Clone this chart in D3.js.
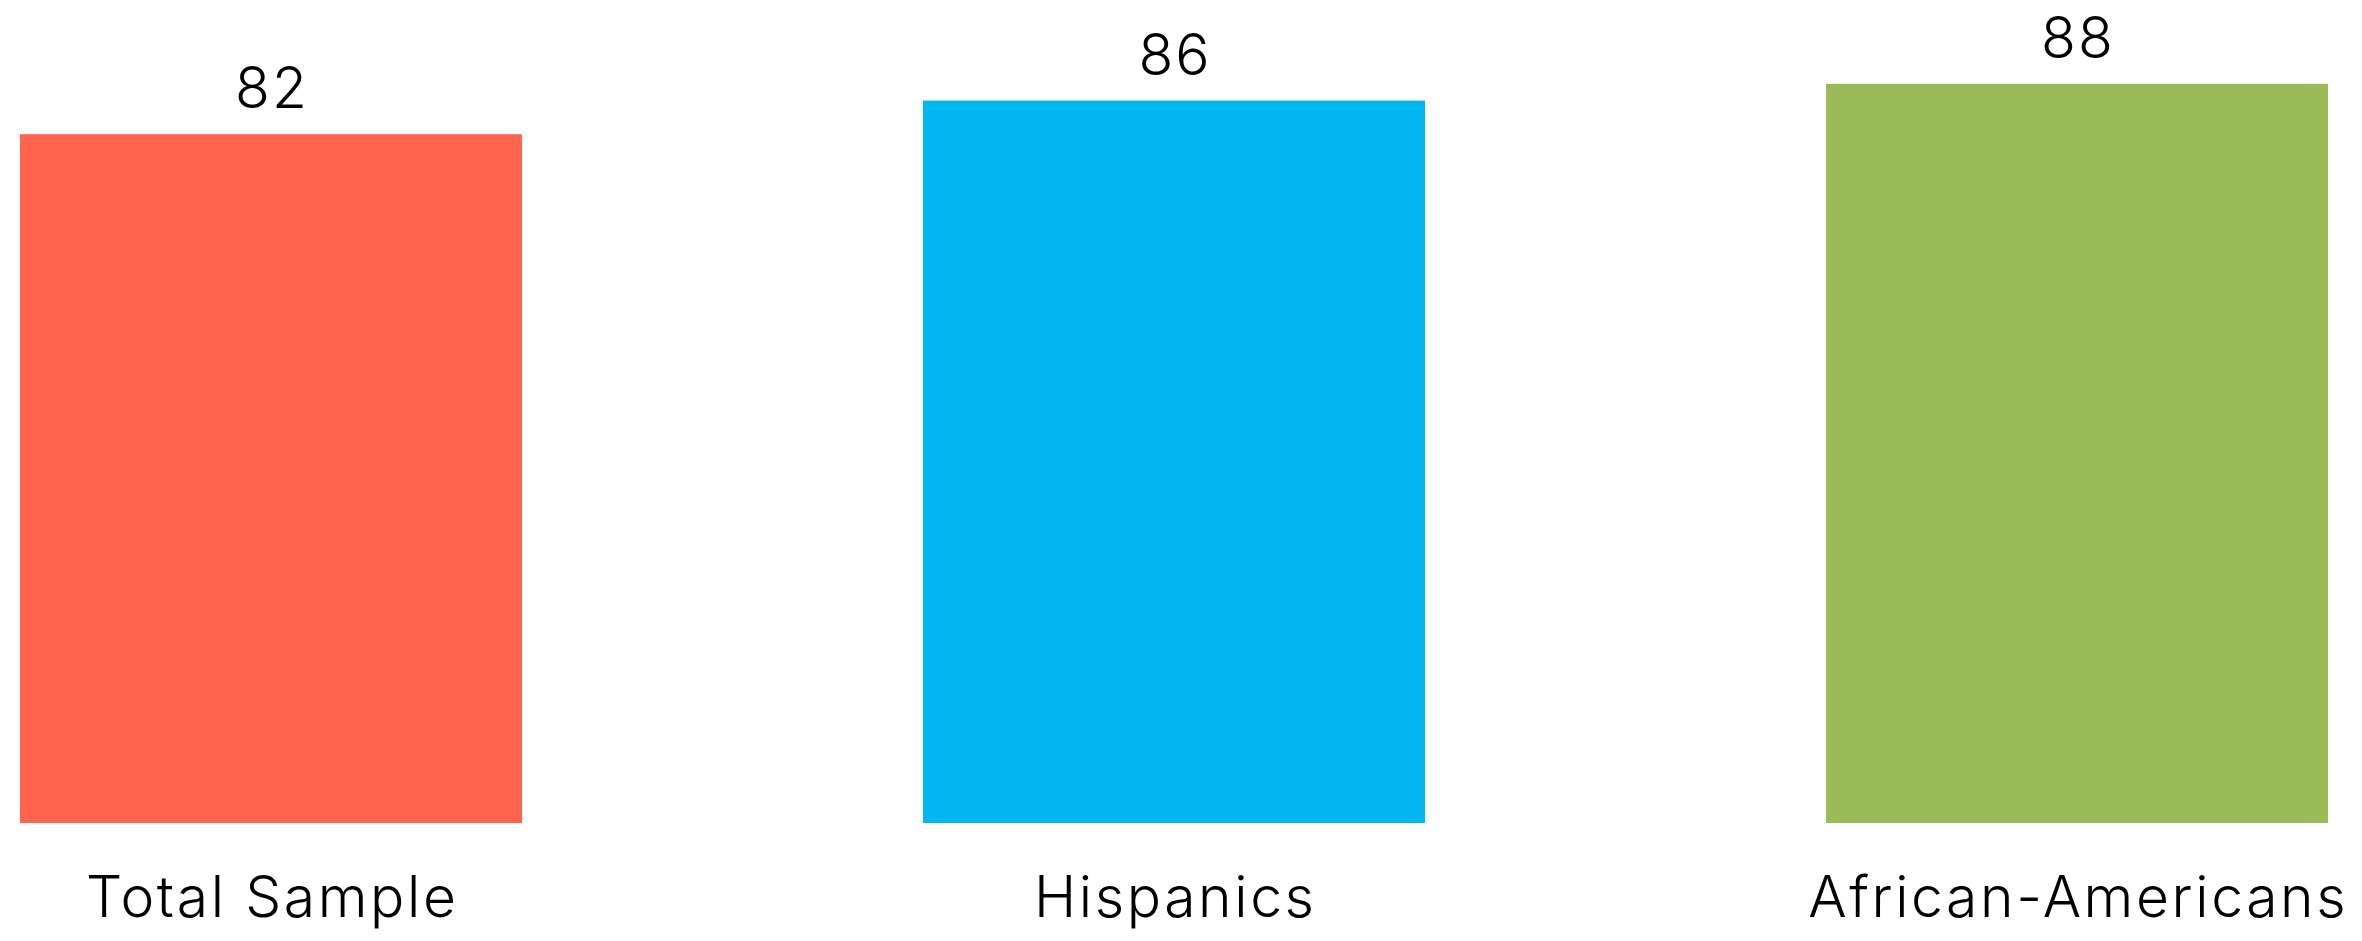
<!DOCTYPE html>
<html>
<head>
<meta charset="utf-8">
<script src="https://cdn.jsdelivr.net/npm/d3@7"></script>
<style>
  html, body { margin: 0; padding: 0; background: #fff; }
  svg { display: block; }
  text { font-family: Inter, "Open Sans", sans-serif; font-weight: 300; fill: #000; }
</style>
</head>
<body>
<div id="chart"></div>
<script>
// chart data
const categories = ['Total Sample', 'Hispanics', 'African-Americans'];
const values = [82, 86, 88];
const colors = ['#FF654E', '#02B6EF', '#9BBB59'];

const width = 2362, height = 941;
const svg = d3.select('#chart').append('svg')
	.attr('width', width)
	.attr('height', height);

const x = d3.scaleBand()
	.domain(categories)
	.range([20, 2328])
	.paddingInner(0.444)
	.paddingOuter(0);

const y = d3.scaleLinear()
	.domain([0, 100])
	.range([823, -17]);

const rows = categories.map((c, i) => ({ name: c, value: values[i], color: colors[i] }));

// bars
svg.selectAll('rect.bar').data(rows).enter().append('rect')
	.attr('class', 'bar')
	.attr('x', d => x(d.name))
	.attr('y', d => y(d.value))
	.attr('width', x.bandwidth())
	.attr('height', d => y(0) - y(d.value))
	.attr('fill', d => d.color);

// value labels
svg.selectAll('text.val').data(rows).enter().append('text')
	.attr('class', 'val')
	.attr('x', d => x(d.name) + x.bandwidth() / 2 + 1)
	.attr('y', d => y(d.value) - 26)
	.attr('text-anchor', 'middle')
	.attr('font-size', 57)
	.attr('letter-spacing', 2)
	.text(d => d.value);

// category labels (no axis line in the original)
const xAxis = svg.append('g')
	.attr('transform', `translate(0,${y(0)})`)
	.call(d3.axisBottom(x).tickSize(0).tickPadding(0));
xAxis.select('.domain').remove();
xAxis.selectAll('text')
	.attr('font-size', 57)
	.attr('letter-spacing', 2.6)
	.attr('dx', 1.3)
	.attr('dy', 0)
	.attr('y', 94)
	.style('font-family', 'Inter, "Open Sans", sans-serif')
	.style('font-weight', 300)
	.attr('fill', '#000');
</script>
</body>
</html>
